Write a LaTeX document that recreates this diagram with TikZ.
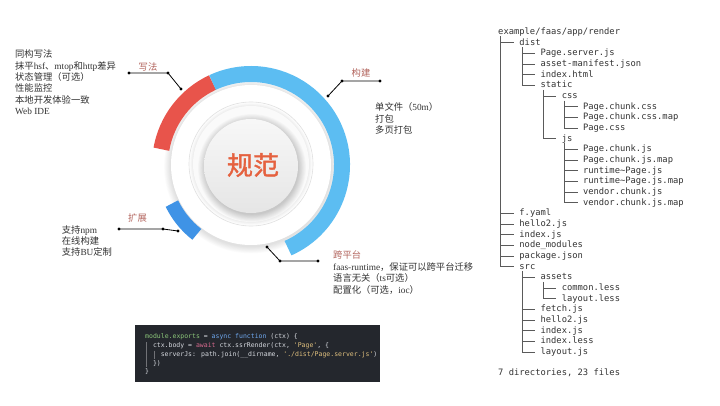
\documentclass[tikz,border=0pt]{standalone}
\usepackage{fontspec}
\setmainfont{Liberation Serif}
\newfontfamily\cjk{Noto Sans CJK SC}
\newfontfamily\cjkb[FakeBold=1.3]{Noto Sans CJK SC}
\newfontfamily\mono{DejaVu Sans Mono}
\usetikzlibrary{calc}
\definecolor{redarc}{HTML}{E8544B}
\definecolor{bluearc}{HTML}{5CBDF2}
\definecolor{darkblue}{HTML}{3F93E6}
\definecolor{labelred}{HTML}{B3655E}
\definecolor{txt}{HTML}{333333}
\definecolor{titlered}{HTML}{E5613F}
\definecolor{codebg}{HTML}{24272D}
\definecolor{cwhite}{HTML}{D7DAE0}
\definecolor{cgreen}{HTML}{8CC77A}
\definecolor{cblue}{HTML}{6FA8EE}
\definecolor{cpink}{HTML}{D86A8E}
\definecolor{cyellow}{HTML}{E0C07E}
\definecolor{treecol}{HTML}{333333}
\definecolor{treeline}{HTML}{5A5A5A}
\newcommand{\treerow}[3]{\node[treetxt, name=r#1] at ({498+21.2*#2},{373-10.67*#1}) {#3};}
\newcommand{\branch}[1]{\draw[treeln] ($(r#1.west)+(-18.55,0)$) -- ($(r#1.west)+(-5.3,0)$);}
\newcommand{\treevline}[3]{\draw[treeln] ({500.65+21.2*(#3-1)},{373-10.67*#1-4.5}) -- ({500.65+21.2*(#3-1)},{373-10.67*#2});}
\begin{document}
\begin{tikzpicture}[x=1pt,y=1pt,
  body/.style={anchor=west, inner sep=0pt, text=txt, font=\cjk\fontsize{9.3}{11}\selectfont, text height=7.5pt, text depth=2pt},
  lbl/.style={inner sep=0pt, text=labelred, font=\cjk\fontsize{9.3}{11}\selectfont},
  leader/.style={draw=black, line width=0.8pt},
  dotc/.style={fill=black},
  treetxt/.style={anchor=west, inner sep=0pt, text=treecol, font=\mono\fontsize{8.8}{10}\selectfont, text height=6.6pt, text depth=1.8pt},
  treeln/.style={draw=treeline, line width=0.7pt},
  code/.style={anchor=west, inner sep=0pt, text=cwhite, font=\mono\fontsize{6.5}{8}\selectfont, text height=5pt, text depth=1.4pt}
]
\useasboundingbox (0,0) rectangle (720,405);
\fill[white] (0,0) rectangle (720,405);

% ---------- central badge ----------
\coordinate (C) at (251,240);
\foreach \i in {1,...,10} \fill[black, opacity=0.012] ($(C)+(0,-1.5)$) circle ({80+\i*0.7});
\fill[white] (C) circle (80);
\foreach \i in {1,...,6} \fill[black, opacity=0.01] ($(C)+(0,1)$) circle ({62-\i*0.6});
\fill[white!98!black] ($(C)+(0,1)$) circle (58);
\draw[black!12, line width=0.6pt] ($(C)+(0,1)$) circle (62);
\foreach \i in {1,...,10} \fill[black, opacity=0.018] ($(C)+(1,-3)$) circle ({46+\i*0.8});
\shade[top color=white!97!black, bottom color=white!90!black] ($(C)+(0,-1)$) circle (47);
\node[text=titlered, font=\cjkb\fontsize{26}{28}\selectfont, inner sep=0pt] (title) at ($(C)+(2,0)$) {规范};

% ---------- arcs ----------
\draw[redarc, line width=16pt] ($(C)+(115:91)$) arc[start angle=115, end angle=170, radius=91];
\draw[bluearc, line width=16pt] ($(C)+(-66:91)$) arc[start angle=-66, end angle=115, radius=91];
\draw[darkblue, line width=14pt] ($(C)+(206:88)$) arc[start angle=206, end angle=232, radius=88];

% ---------- leaders ----------
\coordinate (w1) at (129,332); \coordinate (w2) at (168,332); \coordinate (w3) at (181,316);
\coordinate (b1) at (328,309); \coordinate (b2) at (342,324); \coordinate (b3) at (380,324);
\coordinate (k1) at (119,176); \coordinate (k2) at (163,176); \coordinate (k3) at (178,174);
\coordinate (p1) at (267,158); \coordinate (p2) at (280,144); \coordinate (p3) at (318,144);
\draw[leader] (w1) -- (w2) -- (w3);
\draw[leader] (b1) -- (b2) -- (b3);
\draw[leader] (k1) -- (k2) -- (k3);
\draw[leader] (p1) -- (p2) -- (p3);
\foreach \p in {w1,w2,w3,b1,b2,b3,k1,k2,k3,p1,p2,p3} \fill[dotc] (\p) circle (1.6);

\node[lbl] (lw) at (148,338) {写法};
\node[lbl] (lb) at (361,332) {构建};
\node[lbl] (lk) at (137.5,187) {扩展};
\node[lbl, anchor=west] (lp) at (333,150) {跨平台};

% ---------- text blocks ----------
\node[body] (t1) at (15,350) {同构写法};
\node[body] (t2) at (15,338.6) {抹平\rmfamily hsf\cjk 、\rmfamily mtop\cjk 和\rmfamily http\cjk 差异};
\node[body] (t3) at (15,327.2) {状态管理（可选）};
\node[body] (t4) at (15,315.8) {性能监控};
\node[body] (t5) at (15,304.4) {本地开发体验一致};
\node[body] (t6) at (15,293) {\rmfamily Web IDE};

\node[body] (s1) at (375,297.3) {单文件（\rmfamily 50m\cjk ）};
\node[body] (s2) at (375,285.7) {打包};
\node[body] (s3) at (375,274) {多页打包};

\node[body] (e1) at (61.7,174.3) {支持\rmfamily npm};
\node[body] (e2) at (61.7,163.3) {在线构建};
\node[body] (e3) at (61.7,152.3) {支持\rmfamily BU\cjk 定制};

\node[body] (c1) at (333,137.7) {\rmfamily faas-runtime\cjk ，保证可以跨平台迁移};
\node[body] (c2) at (333,126) {语言无关（\rmfamily ts\cjk 可选）};
\node[body] (c3) at (333,114.7) {配置化（可选，\rmfamily ioc\cjk ）};

% ---------- code box ----------
\node[fill=codebg, minimum width=245pt, minimum height=57pt, inner sep=0pt, anchor=south west] (codebox) at (135,23) {};
\draw[white!35!codebg, line width=0.5pt] (146.5,63) -- (146.5,38);
\draw[white!35!codebg, line width=0.5pt] (154.3,54.5) -- (154.3,46.5);
\node[code] (k1c) at (145,68) {\textcolor{cgreen}{module.exports} = \textcolor{cblue}{async function} (ctx) \{};
\node[code] (k2c) at (152.8,59.25) {ctx.body = \textcolor{cpink}{await} ctx.ssrRender(ctx, \textcolor{cyellow}{'Page'}, \{};
\node[code] (k3c) at (160.6,50.5) {serverJs: path.join(\_\_dirname, \textcolor{cyellow}{'./dist/Page.server.js'})};
\node[code] (k4c) at (152.8,41.75) {\})};
\node[code] (k5c) at (145,33) {\}};

% ---------- file tree ----------
\treerow{0}{0}{example/faas/app/render}
\treerow{1}{1}{dist}
\treerow{2}{2}{Page.server.js}
\treerow{3}{2}{asset-manifest.json}
\treerow{4}{2}{index.html}
\treerow{5}{2}{static}
\treerow{6}{3}{css}
\treerow{7}{4}{Page.chunk.css}
\treerow{8}{4}{Page.chunk.css.map}
\treerow{9}{4}{Page.css}
\treerow{10}{3}{js}
\treerow{11}{4}{Page.chunk.js}
\treerow{12}{4}{Page.chunk.js.map}
\treerow{13}{4}{runtime\textasciitilde Page.js}
\treerow{14}{4}{runtime\textasciitilde Page.js.map}
\treerow{15}{4}{vendor.chunk.js}
\treerow{16}{4}{vendor.chunk.js.map}
\treerow{17}{1}{f.yaml}
\treerow{18}{1}{hello2.js}
\treerow{19}{1}{index.js}
\treerow{20}{1}{node\_modules}
\treerow{21}{1}{package.json}
\treerow{22}{1}{src}
\treerow{23}{2}{assets}
\treerow{24}{3}{common.less}
\treerow{25}{3}{layout.less}
\treerow{26}{2}{fetch.js}
\treerow{27}{2}{hello2.js}
\treerow{28}{2}{index.js}
\treerow{29}{2}{index.less}
\treerow{30}{2}{layout.js}
\treerow{32}{0}{7 directories, 23 files}
\foreach \k in {1,...,30} {\branch{\k}}
\treevline{0}{22}{1}
\treevline{1}{5}{2}
\treevline{5}{10}{3}
\treevline{6}{9}{4}
\treevline{10}{16}{4}
\treevline{22}{30}{2}
\treevline{23}{25}{3}
\end{tikzpicture}
\end{document}
